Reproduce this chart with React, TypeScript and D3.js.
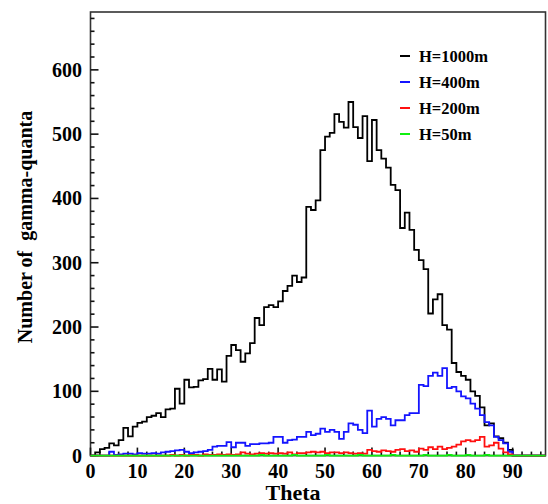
import React, { useRef, useEffect } from 'react';
import * as d3 from 'd3';

// bin counts, 1 degree bins, theta 0..97
const h1000 = [0, 5, 10, 12, 19, 16, 24, 43, 30, 45, 51, 53, 60, 62, 66, 60, 72, 73, 104, 81,
  118, 106, 107, 117, 119, 135, 118, 134, 115, 155, 172, 164, 146, 159, 175, 214, 203, 231, 234, 231,
  240, 256, 264, 280, 270, 277, 387, 382, 397, 475, 496, 502, 531, 519, 510, 550, 511, 494, 528, 458,
  522, 475, 462, 448, 421, 413, 354, 378, 351, 320, 304, 290, 221, 243, 251, 203, 196, 144, 130, 124,
  118, 100, 93, 75, 47, 50, 30, 27, 20, 9, 0, 0, 0, 0, 0, 0, 0];
const h400 = [0, 0, 0, 0, 6, 1, 2, 3, 3, 2, 4, 3, 3, 4, 3, 5, 6, 7, 8, 9,
  6, 4, 5, 6, 7, 9, 14, 15, 15, 21, 13, 20, 20, 15, 18, 18, 19, 19, 20, 29,
  29, 20, 24, 25, 29, 29, 37, 32, 34, 42, 37, 40, 37, 26, 37, 50, 48, 40, 35, 70,
  45, 57, 60, 57, 47, 55, 55, 63, 66, 66, 110, 108, 124, 129, 124, 136, 105, 107, 100, 92,
  89, 81, 73, 63, 52, 47, 29, 24, 19, 6, 0, 0, 0, 0, 0, 0, 0];
const h200 = [0, 0, 0, 0, 0, 0, 0, 0, 0, 0, 0, 0, 0, 0, 0, 0, 0, 1, 0, 1,
  0, 1, 1, 0, 2, 1, 1, 2, 1, 2, 1, 2, 5, 3, 2, 3, 4, 3, 4, 3,
  4, 3, 5, 2, 4, 4, 5, 6, 5, 6, 4, 5, 5, 4, 5, 4, 3, 4, 3, 9,
  7, 6, 8, 7, 6, 9, 10, 7, 8, 6, 11, 9, 13, 10, 14, 10, 12, 14, 17, 22,
  24, 22, 24, 29, 14, 16, 20, 11, 5, 2, 0, 0, 0, 0, 0, 0, 0];
const h50 = [0, 0, 0, 0, 0, 0, 0, 0, 0, 0, 0, 0, 0, 0, 0, 0, 0, 0, 0, 0,
  0, 0, 0, 0, 0, 0, 0, 0, 0, 0, 0, 0, 0, 0, 0, 0, 1, 0, 0, 0,
  0, 0, 0, 1, 0, 0, 0, 0, 0, 0, 1, 0, 0, 0, 0, 0, 0, 1, 0, 0,
  0, 0, 0, 0, 1, 0, 0, 0, 0, 0, 0, 1, 0, 0, 0, 0, 1, 0, 0, 0,
  1, 0, 0, 0, 1, 0, 0, 0, 0, 0, 0, 0, 0, 0, 0, 0, 0];

const series = [
  { name: 'H=1000m', values: h1000, color: '#000000' },
  { name: 'H=400m', values: h400, color: '#1414ff' },
  { name: 'H=200m', values: h200, color: '#ff1010' },
  { name: 'H=50m', values: h50, color: '#10f010' },
];

const xMajor = [0, 10, 20, 30, 40, 50, 60, 70, 80, 90];
const yMajor = [0, 100, 200, 300, 400, 500, 600];

const W = 548;
const H = 504;

const App = () => {
  const svgRef = useRef(null);

  useEffect(() => {
    const svg = d3.select(svgRef.current);
    svg.selectAll('*').remove();

    const left = 90.5, right = 545.5, top = 12, bottom = 455.6;
    const font = '"Liberation Serif", "Times New Roman", serif';

    const x = d3.scaleLinear().domain([0, 97]).range([left, right]);
    const y = d3.scaleLinear().domain([0, 690]).range([bottom, top]);

    // frame
    svg.append('rect')
      .attr('x', left).attr('y', top)
      .attr('width', right - left).attr('height', bottom - top)
      .attr('fill', 'none').attr('stroke', '#333').attr('stroke-width', 1.6);

    // y ticks (inside)
    const yMinor = d3.range(0, 690, 20);
    svg.append('g').selectAll('line').data(yMinor).join('line')
      .attr('x1', left).attr('x2', d => left + (d % 100 === 0 ? 8 : 4))
      .attr('y1', d => y(d)).attr('y2', d => y(d))
      .attr('stroke', '#111').attr('stroke-width', 1.6);

    svg.append('g').selectAll('text').data(yMajor).join('text')
      .attr('x', 82).attr('y', d => y(d) + 7)
      .attr('text-anchor', 'end')
      .attr('font-family', font).attr('font-weight', 'bold').attr('font-size', 20)
      .text(d => d);

    // x ticks (inside)
    const xMinor = d3.range(0, 97, 2);
    svg.append('g').selectAll('line').data(xMinor).join('line')
      .attr('x1', d => x(d)).attr('x2', d => x(d))
      .attr('y1', bottom).attr('y2', d => bottom - (d % 10 === 0 ? 8 : 4))
      .attr('stroke', '#111').attr('stroke-width', 1.6);

    svg.append('g').selectAll('text').data(xMajor).join('text')
      .attr('x', d => x(d)).attr('y', 478)
      .attr('text-anchor', 'middle')
      .attr('font-family', font).attr('font-weight', 'bold').attr('font-size', 20)
      .text(d => d);

    // axis titles
    svg.append('text')
      .attr('x', 293).attr('y', 500)
      .attr('text-anchor', 'middle')
      .attr('font-family', font).attr('font-weight', 'bold').attr('font-size', 22)
      .text('Theta');

    svg.append('text')
      .attr('transform', 'translate(32,227) rotate(-90)')
      .attr('text-anchor', 'middle')
      .attr('font-family', font).attr('font-weight', 'bold').attr('font-size', 20)
      .style('white-space', 'pre')
      .text('Number of  gamma-quanta');

    // histograms as steps
    const line = d3.line()
      .x(d => x(d[0]))
      .y(d => y(d[1]))
      .curve(d3.curveStepAfter);

    series.forEach(s => {
      const pts = s.values.map((v, i) => [i, v]);
      pts.push([s.values.length, s.values[s.values.length - 1]]);
      svg.append('path')
        .datum(pts)
        .attr('fill', 'none')
        .attr('stroke', s.color)
        .attr('stroke-width', 1.8)
        .attr('d', line);
    });

    // legend
    const leg = svg.append('g');
    series.forEach((s, i) => {
      const ly = 56 + i * 26;
      leg.append('line')
        .attr('x1', 400).attr('x2', 410).attr('y1', ly).attr('y2', ly)
        .attr('stroke', s.color).attr('stroke-width', 2);
      leg.append('text')
        .attr('x', 419).attr('y', ly + 5.5)
        .attr('font-family', font).attr('font-weight', 'bold').attr('font-size', 16.5)
        .text(s.name);
    });
  }, []);

  return (
    <svg ref={svgRef} width={W} height={H}
      style={{ position: 'absolute', left: 0, top: 0, background: '#fff' }} />
  );
};

export default App;
